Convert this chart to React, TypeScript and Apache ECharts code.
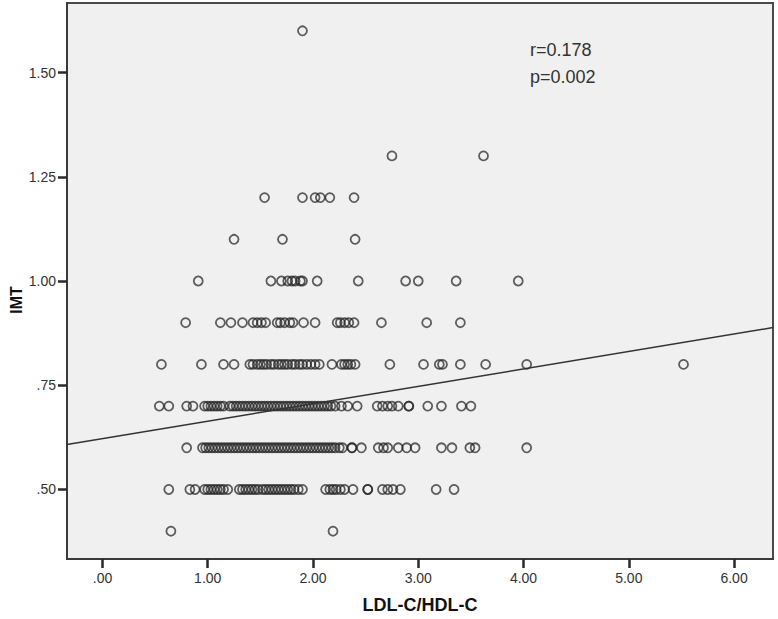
import React, { useEffect, useRef } from "react";
import * as echarts from "echarts";

// LDL-C/HDL-C values, grouped by IMT level
const imt040 = [0.65, 2.19];
const imt050 = [0.63, 0.83, 0.88, 0.97, 1.0, 1.03, 1.06, 1.09, 1.12, 1.15, 1.19, 1.3, 1.33, 1.36, 1.39, 1.42, 1.45, 1.48, 1.52, 1.55, 1.58, 1.61, 1.64, 1.67, 1.7, 1.73, 1.76, 1.79, 1.82, 1.86, 1.9, 2.12, 2.16, 2.19, 2.22, 2.26, 2.3, 2.38, 2.52, 2.52, 2.66, 2.71, 2.76, 2.83, 3.17, 3.34];
const imt060 = [0.8, 0.95, 0.98, 1.01, 1.04, 1.07, 1.1, 1.13, 1.16, 1.19, 1.22, 1.25, 1.28, 1.31, 1.34, 1.37, 1.4, 1.43, 1.46, 1.49, 1.52, 1.55, 1.58, 1.61, 1.64, 1.67, 1.7, 1.73, 1.76, 1.79, 1.82, 1.85, 1.88, 1.91, 1.94, 1.97, 2.0, 2.03, 2.06, 2.09, 2.12, 2.15, 2.18, 2.21, 2.25, 2.28, 2.37, 2.37, 2.46, 2.62, 2.67, 2.71, 2.81, 2.89, 2.97, 3.22, 3.32, 3.49, 3.54, 4.03];
const imt070 = [0.54, 0.63, 0.8, 0.86, 0.97, 1.0, 1.03, 1.06, 1.09, 1.12, 1.15, 1.21, 1.24, 1.27, 1.3, 1.33, 1.36, 1.39, 1.42, 1.45, 1.48, 1.51, 1.54, 1.57, 1.6, 1.63, 1.66, 1.69, 1.72, 1.75, 1.78, 1.81, 1.84, 1.87, 1.9, 1.93, 1.96, 1.99, 2.02, 2.05, 2.08, 2.11, 2.14, 2.17, 2.21, 2.27, 2.33, 2.42, 2.61, 2.66, 2.71, 2.75, 2.81, 2.91, 2.91, 3.09, 3.22, 3.41, 3.5];
const imt080 = [0.56, 0.94, 1.15, 1.25, 1.4, 1.43, 1.47, 1.5, 1.53, 1.56, 1.6, 1.63, 1.67, 1.7, 1.73, 1.76, 1.8, 1.83, 1.87, 1.9, 1.94, 1.98, 2.02, 2.06, 2.18, 2.27, 2.3, 2.33, 2.36, 2.4, 2.73, 3.05, 3.2, 3.23, 3.4, 3.64, 4.03, 5.52];
const imt090 = [0.79, 1.12, 1.22, 1.33, 1.43, 1.47, 1.51, 1.55, 1.66, 1.69, 1.73, 1.78, 1.81, 1.91, 2.02, 2.23, 2.26, 2.3, 2.34, 2.39, 2.65, 3.08, 3.4];
const imt100 = [0.91, 1.6, 1.7, 1.76, 1.8, 1.83, 1.88, 1.9, 2.04, 2.43, 2.88, 3.0, 3.36, 3.95];
const imt110 = [1.25, 1.71, 2.4];
const imt120 = [1.54, 1.9, 2.02, 2.07, 2.16, 2.39];
const imt130 = [2.75, 3.62];
const imt160 = [1.9];

const imtLevels = [0.4, 0.5, 0.6, 0.7, 0.8, 0.9, 1.0, 1.1, 1.2, 1.3, 1.6];
const ratiosByLevel = [imt040, imt050, imt060, imt070, imt080, imt090, imt100, imt110, imt120, imt130, imt160];

const xTicks = [0, 1, 2, 3, 4, 5, 6];
const yTicks = [0.5, 0.75, 1.0, 1.25, 1.5];
const xRange = [-0.337, 6.37];
const yRange = [0.3333, 1.6667];

const fitIntercept = 0.622;
const fitSlope = 0.0418;

const statLines = ["r=0.178", "p=0.002"];
const xTitle = "LDL-C/HDL-C";
const yTitle = "IMT";

const fmt = (v: number) => v.toFixed(2).replace(/^0/, "");

export default function App() {
  const ref = useRef<HTMLDivElement>(null);
  useEffect(() => {
    if (!ref.current) return;
    const chart = echarts.init(ref.current, null, { renderer: "svg" });
    const points: number[][] = [];
    imtLevels.forEach((lvl, i) => {
      ratiosByLevel[i].forEach((x) => points.push([x, lvl]));
    });
    const fit = [
      [xRange[0], fitIntercept + fitSlope * xRange[0]],
      [xRange[1], fitIntercept + fitSlope * xRange[1]],
    ];
    const tickLabel = { color: "#333", fontSize: 14, fontFamily: "Liberation Sans, Arial, sans-serif" };
    const axisLine = { show: true, onZero: false, lineStyle: { color: "#3a3a3a", width: 2 } };
    const tickStyle = { color: "#2a2a2a", width: 2.5 };
    chart.setOption({
      animation: false,
      backgroundColor: "#ffffff",
      grid: {
        left: 67,
        top: 3,
        right: 5,
        bottom: 56,
        show: true,
        backgroundColor: "#f0f0f0",
        borderColor: "#4a4a4a",
        borderWidth: 2,
      },
      xAxis: {
        type: "value",
        position: "bottom",
        min: xRange[0],
        max: xRange[1],
        splitLine: { show: false },
        axisLine,
        axisTick: { show: true, length: 9, inside: false, customValues: xTicks, lineStyle: tickStyle },
        axisLabel: { ...tickLabel, margin: 12, customValues: xTicks, formatter: (v: number) => fmt(v) },
        name: xTitle,
        nameLocation: "middle",
        nameGap: 37,
        nameTextStyle: { color: "#111", fontSize: 18, fontWeight: "bold", fontFamily: "Liberation Sans, Arial, sans-serif" },
      },
      yAxis: {
        type: "value",
        position: "left",
        min: yRange[0],
        max: yRange[1],
        splitLine: { show: false },
        axisLine,
        axisTick: { show: true, length: 9, inside: false, customValues: yTicks, lineStyle: tickStyle },
        axisLabel: { ...tickLabel, margin: 11, customValues: yTicks, formatter: (v: number) => fmt(v) },
      },
      graphic: [
        {
          type: "text",
          left: 530,
          top: 36,
          style: {
            text: statLines.join("\n"),
            fill: "#333",
            font: "18px 'Liberation Sans', Arial, sans-serif",
            lineHeight: 27,
          },
        },
        {
          type: "text",
          x: 16,
          y: 300,
          rotation: Math.PI / 2,
          style: {
            text: yTitle,
            fill: "#111",
            font: "bold 16px 'Liberation Sans', Arial, sans-serif",
            align: "center",
            verticalAlign: "middle",
          },
        },
      ],
      series: [
        {
          type: "scatter",
          data: points,
          symbol: "circle",
          symbolSize: 9,
          itemStyle: { color: "rgba(0,0,0,0)", borderColor: "rgba(35,35,35,0.9)", borderWidth: 1.8 },
          z: 3,
        },
        {
          type: "line",
          data: fit,
          symbol: "none",
          lineStyle: { color: "#333", width: 1.5 },
          z: 4,
        },
      ],
    });
    return () => chart.dispose();
  }, []);
  return <div ref={ref} style={{ position: "fixed", left: 0, top: 0, width: 778, height: 619 }} />;
}
